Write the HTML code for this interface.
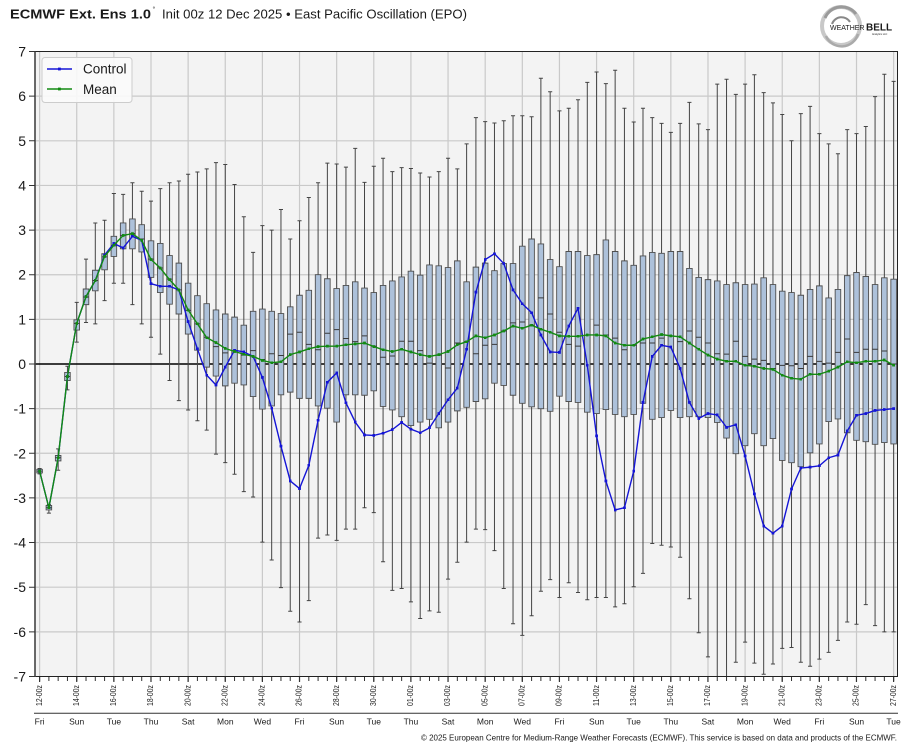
<!DOCTYPE html>
<html>
<head>
<meta charset="utf-8">
<style>
html,body{margin:0;padding:0;background:#fff;}
svg{display:block;}
text{font-family:"Liberation Sans","DejaVu Sans",sans-serif;fill:#1a1a1a;}
</style>
</head>
<body>
<svg width="914" height="750" viewBox="0 0 914 750" xmlns="http://www.w3.org/2000/svg">
<defs>
<marker id="mb" markerUnits="userSpaceOnUse" markerWidth="0.3" markerHeight="0.063" viewBox="0 0 1 1" refX="0.5" refY="0.5" preserveAspectRatio="none"><rect width="1" height="1" fill="#1414d6"/></marker>
<marker id="mg" markerUnits="userSpaceOnUse" markerWidth="0.3" markerHeight="0.063" viewBox="0 0 1 1" refX="0.5" refY="0.5" preserveAspectRatio="none"><rect width="1" height="1" fill="#128a12"/></marker>
</defs>
<rect x="0" y="0" width="914" height="750" fill="#fff"/>

<!-- title -->
<text x="10" y="18.5" font-size="13" font-weight="bold" textLength="141" lengthAdjust="spacingAndGlyphs">ECMWF Ext. Ens 1.0</text>
<text x="152.5" y="11.5" font-size="7">°</text>
<text x="162" y="18.5" font-size="13" textLength="305" lengthAdjust="spacingAndGlyphs">Init 00z 12 Dec 2025 • East Pacific Oscillation (EPO)</text>

<!-- logo -->
<g>
<circle cx="841" cy="26" r="19" fill="none" stroke="#c8c8c8" stroke-width="4"/>
<path d="M825 18 A18 18 0 0 1 856 14" fill="none" stroke="#9a9a9a" stroke-width="3"/>
<path d="M826 36 A17 17 0 0 0 858 34" fill="none" stroke="#aaa" stroke-width="2.5"/>
<path d="M832 24 A10 10 0 0 1 850 22" fill="none" stroke="#888" stroke-width="2"/>
<text x="830" y="30" font-family="Liberation Serif,serif" font-size="7" fill="#666">WEATHER</text>
<text x="866" y="30.5" font-family="Liberation Serif,serif" font-size="10" font-weight="bold" fill="#666">BELL</text>
<text x="872" y="35" font-size="2.5" fill="#888">Analytics LLC</text>
</g>

<!-- plot bg -->
<rect x="35" y="51.5" width="862.5" height="625" fill="#f3f3f3"/>

<g transform="translate(39.6 364) scale(9.283 -44.64)">
<!-- grid -->
<path vector-effect="non-scaling-stroke" stroke="#c9c9c9" stroke-width="1.2" fill="none"
d="M0 -7V7M4 -7V7M8 -7V7M12 -7V7M16 -7V7M20 -7V7M24 -7V7M28 -7V7M32 -7V7M36 -7V7M40 -7V7M44 -7V7M48 -7V7M52 -7V7M56 -7V7M60 -7V7M64 -7V7M68 -7V7M72 -7V7M76 -7V7M80 -7V7M84 -7V7M88 -7V7M92 -7V7
M-.5 6H92.42M-.5 5H92.42M-.5 4H92.42M-.5 3H92.42M-.5 2H92.42M-.5 1H92.42M-.5 -1H92.42M-.5 -2H92.42M-.5 -3H92.42M-.5 -4H92.42M-.5 -5H92.42M-.5 -6H92.42"/>
<path vector-effect="non-scaling-stroke" stroke="#000" stroke-width="1.4" fill="none" d="M-.5 0H92.42"/>

<!-- whiskers -->
<path vector-effect="non-scaling-stroke" stroke="#444" stroke-width="1" fill="none"
d="M0 -2.34V-2.46M1 -3.15V-3.34M2 -1.9V-2.38M3 -.05V-.58M4 1.38V.49M5 2.35V.93M6 3.16V.9M7 3.22V1.42M8 3.82V1.81M9 3.8V1.81M10 4.06V1.33M11 3.87V.9M12 3.65V.6M13 3.93V.22M14 4.06V-.37M15 4.1V-.82M16 4.25V-1.03M17 4.3V-1.27M18 4.37V-1.48M19 4.51V-2.02M20 4.47V-2.21M21 4.02V-2.47M22 3.3V-2.86M23 2.5V-2.98M24 3.1V-3.99M25 3V-4.39M26 3.46V-5.01M27 2.8V-5.54M28 3.21V-5.78M29 3.73V-5.3M30 4.06V-3.9M31 4.5V-3.83M32 4.48V-3.95M33 4.41V-3.7M34 4.83V-3.7M35 4.07V-3.22M36 4.43V-3.33M37 4.61V-4.43M38 4.31V-5.07M39 4.4V-5.03M40 4.38V-5.33M41 4.28V-5.7M42 4.19V-5.53M43 4.31V-5.56M44 4.61V-4.82M45 4.37V-4.44M46 4.93V-3.99M47 5.52V-3.7M48 5.43V-3.71M49 5.4V-4.18M50 5.45V-5.03M51 5.56V-5.82M52 5.56V-6.08M53 5.54V-5.64M54 6.4V-5.09M55 6.1V-4.83M56 5.67V-5.23M57 5.73V-4.9M58 5.92V-5.12M59 6.31V-5.28M60 6.54V-5.23M61 6.28V-5.23M62 6.58V-5.44M63 5.73V-5.37M64 5.42V-4.99M65 5.73V-4.69M66 5.52V-4.02M67 5.39V-4.06M68 5.19V-4.1M69 5.39V-4.33M70 5.86V-5.26M71 5.38V-6.02M72 5.25V-6.56M73 6.27V-7M74 6.38V-7M75 6.04V-6.68M76 6.27V-6.23M77 6.48V-6.7M78 6.08V-6.95M79 5.85V-6.72M80 5.59V-6.37M81 5V-6.35M82 5.61V-6.68M83 5.77V-6.77M84 5.16V-6.61M85 4.93V-6.46M86 4.71V-6.19M87 5.25V-5.78M88 5.16V-5.83M89 5.32V-5.39M90 5.99V-5.86M91 6.49V-6M92 6.33V-6"/>
<!-- caps -->
<path vector-effect="non-scaling-stroke" stroke="#444" stroke-width="1" fill="none"
d="M-.22 -2.34h.44M-.22 -2.46h.44M.78 -3.15h.44M.78 -3.34h.44M1.78 -1.9h.44M1.78 -2.38h.44M2.78 -.05h.44M2.78 -.58h.44M3.78 1.38h.44M3.78 .49h.44M4.78 2.35h.44M4.78 .93h.44M5.78 3.16h.44M5.78 .9h.44M6.78 3.22h.44M6.78 1.42h.44M7.78 3.82h.44M7.78 1.81h.44M8.78 3.8h.44M8.78 1.81h.44M9.78 4.06h.44M9.78 1.33h.44M10.78 3.87h.44M10.78 .9h.44M11.78 3.65h.44M11.78 .6h.44M12.78 3.93h.44M12.78 .22h.44M13.78 4.06h.44M13.78 -.37h.44M14.78 4.1h.44M14.78 -.82h.44M15.78 4.25h.44M15.78 -1.03h.44M16.78 4.3h.44M16.78 -1.27h.44M17.78 4.37h.44M17.78 -1.48h.44M18.78 4.51h.44M18.78 -2.02h.44M19.78 4.47h.44M19.78 -2.21h.44M20.78 4.02h.44M20.78 -2.47h.44M21.78 3.3h.44M21.78 -2.86h.44M22.78 2.5h.44M22.78 -2.98h.44M23.78 3.1h.44M23.78 -3.99h.44M24.78 3h.44M24.78 -4.39h.44M25.78 3.46h.44M25.78 -5.01h.44M26.78 2.8h.44M26.78 -5.54h.44M27.78 3.21h.44M27.78 -5.78h.44M28.78 3.73h.44M28.78 -5.3h.44M29.78 4.06h.44M29.78 -3.9h.44M30.78 4.5h.44M30.78 -3.83h.44M31.78 4.48h.44M31.78 -3.95h.44M32.78 4.41h.44M32.78 -3.7h.44M33.78 4.83h.44M33.78 -3.7h.44M34.78 4.07h.44M34.78 -3.22h.44M35.78 4.43h.44M35.78 -3.33h.44M36.78 4.61h.44M36.78 -4.43h.44M37.78 4.31h.44M37.78 -5.07h.44M38.78 4.4h.44M38.78 -5.03h.44M39.78 4.38h.44M39.78 -5.33h.44M40.78 4.28h.44M40.78 -5.7h.44M41.78 4.19h.44M41.78 -5.53h.44M42.78 4.31h.44M42.78 -5.56h.44M43.78 4.61h.44M43.78 -4.82h.44M44.78 4.37h.44M44.78 -4.44h.44M45.78 4.93h.44M45.78 -3.99h.44M46.78 5.52h.44M46.78 -3.7h.44M47.78 5.43h.44M47.78 -3.71h.44M48.78 5.4h.44M48.78 -4.18h.44M49.78 5.45h.44M49.78 -5.03h.44M50.78 5.56h.44M50.78 -5.82h.44M51.78 5.56h.44M51.78 -6.08h.44M52.78 5.54h.44M52.78 -5.64h.44M53.78 6.4h.44M53.78 -5.09h.44M54.78 6.1h.44M54.78 -4.83h.44M55.78 5.67h.44M55.78 -5.23h.44M56.78 5.73h.44M56.78 -4.9h.44M57.78 5.92h.44M57.78 -5.12h.44M58.78 6.31h.44M58.78 -5.28h.44M59.78 6.54h.44M59.78 -5.23h.44M60.78 6.28h.44M60.78 -5.23h.44M61.78 6.58h.44M61.78 -5.44h.44M62.78 5.73h.44M62.78 -5.37h.44M63.78 5.42h.44M63.78 -4.99h.44M64.78 5.73h.44M64.78 -4.69h.44M65.78 5.52h.44M65.78 -4.02h.44M66.78 5.39h.44M66.78 -4.06h.44M67.78 5.19h.44M67.78 -4.1h.44M68.78 5.39h.44M68.78 -4.33h.44M69.78 5.86h.44M69.78 -5.26h.44M70.78 5.38h.44M70.78 -6.02h.44M71.78 5.25h.44M71.78 -6.56h.44M72.78 6.27h.44M73.78 6.38h.44M74.78 6.04h.44M74.78 -6.68h.44M75.78 6.27h.44M75.78 -6.23h.44M76.78 6.48h.44M76.78 -6.7h.44M77.78 6.08h.44M77.78 -6.95h.44M78.78 5.85h.44M78.78 -6.72h.44M79.78 5.59h.44M79.78 -6.37h.44M80.78 5h.44M80.78 -6.35h.44M81.78 5.61h.44M81.78 -6.68h.44M82.78 5.77h.44M82.78 -6.77h.44M83.78 5.16h.44M83.78 -6.61h.44M84.78 4.93h.44M84.78 -6.46h.44M85.78 4.71h.44M85.78 -6.19h.44M86.78 5.25h.44M86.78 -5.78h.44M87.78 5.16h.44M87.78 -5.83h.44M88.78 5.32h.44M88.78 -5.39h.44M89.78 5.99h.44M89.78 -5.86h.44M90.78 6.49h.44M90.78 -6h.44M91.78 6.33h.44M91.78 -6h.44"/>

<!-- boxes -->
<path vector-effect="non-scaling-stroke" stroke="#4f4f4f" stroke-width="0.9" fill="#adc1da"
d="M-.3 -2.44h.6V-2.36h-.6ZM.7 -3.27h.6V-3.17h-.6ZM1.7 -2.17h.6V-2.05h-.6ZM2.7 -.37h.6V-.19h-.6ZM3.7 .76h.6V.99h-.6ZM4.7 1.33h.6V1.68h-.6ZM5.7 1.64h.6V2.1h-.6ZM6.7 2.11h.6V2.47h-.6ZM7.7 2.41h.6V2.86h-.6ZM8.7 2.58h.6V3.16h-.6ZM9.7 2.58h.6V3.25h-.6ZM10.7 2.51h.6V3.12h-.6ZM11.7 1.94h.6V2.76h-.6ZM12.7 1.6h.6V2.7h-.6ZM13.7 1.34h.6V2.43h-.6ZM14.7 1.12h.6V2.26h-.6ZM15.7 .67h.6V1.81h-.6ZM16.7 .31h.6V1.53h-.6ZM17.7 -.07h.6V1.35h-.6ZM18.7 -.27h.6V1.21h-.6ZM19.7 -.49h.6V1.12h-.6ZM20.7 -.43h.6V1.05h-.6ZM21.7 -.47h.6V.87h-.6ZM22.7 -.73h.6V1.18h-.6ZM23.7 -1.01h.6V1.23h-.6ZM24.7 -.94h.6V1.18h-.6ZM25.7 -.69h.6V1.13h-.6ZM26.7 -.63h.6V1.28h-.6ZM27.7 -.77h.6V1.54h-.6ZM28.7 -.77h.6V1.65h-.6ZM29.7 -.94h.6V2h-.6ZM30.7 -.99h.6V1.91h-.6ZM31.7 -1.3h.6V1.69h-.6ZM32.7 -.69h.6V1.76h-.6ZM33.7 -.69h.6V1.84h-.6ZM34.7 -.7h.6V1.7h-.6ZM35.7 -.6h.6V1.6h-.6ZM36.7 -.95h.6V1.76h-.6ZM37.7 -1.03h.6V1.86h-.6ZM38.7 -1.18h.6V1.95h-.6ZM39.7 -1.38h.6V2.08h-.6ZM40.7 -1.3h.6V1.99h-.6ZM41.7 -1.24h.6V2.22h-.6ZM42.7 -1.43h.6V2.2h-.6ZM43.7 -1.3h.6V2.16h-.6ZM44.7 -1.05h.6V2.31h-.6ZM45.7 -.97h.6V1.84h-.6ZM46.7 -.84h.6V2.17h-.6ZM47.7 -.78h.6V2.26h-.6ZM48.7 -.43h.6V2.09h-.6ZM49.7 -.48h.6V2.25h-.6ZM50.7 -.7h.6V2.25h-.6ZM51.7 -.88h.6V2.64h-.6ZM52.7 -.96h.6V2.8h-.6ZM53.7 -1h.6V2.69h-.6ZM54.7 -1.06h.6V2.34h-.6ZM55.7 -.72h.6V2.18h-.6ZM56.7 -.84h.6V2.52h-.6ZM57.7 -.86h.6V2.52h-.6ZM58.7 -1.08h.6V2.43h-.6ZM59.7 -1.11h.6V2.45h-.6ZM60.7 -1.02h.6V2.78h-.6ZM61.7 -1.13h.6V2.52h-.6ZM62.7 -1.18h.6V2.31h-.6ZM63.7 -1.13h.6V2.21h-.6ZM64.7 -.88h.6V2.42h-.6ZM65.7 -1.24h.6V2.5h-.6ZM66.7 -1.2h.6V2.48h-.6ZM67.7 -1.04h.6V2.52h-.6ZM68.7 -1.2h.6V2.52h-.6ZM69.7 -1.18h.6V2.14h-.6ZM70.7 -1.18h.6V1.94h-.6ZM71.7 -1.2h.6V1.89h-.6ZM72.7 -1.31h.6V1.86h-.6ZM73.7 -1.66h.6V1.78h-.6ZM74.7 -2.01h.6V1.82h-.6ZM75.7 -1.83h.6V1.78h-.6ZM76.7 -1.56h.6V1.79h-.6ZM77.7 -1.83h.6V1.93h-.6ZM78.7 -1.67h.6V1.78h-.6ZM79.7 -2.16h.6V1.63h-.6ZM80.7 -2.21h.6V1.6h-.6ZM81.7 -2.3h.6V1.54h-.6ZM82.7 -1.99h.6V1.67h-.6ZM83.7 -1.79h.6V1.75h-.6ZM84.7 -1.29h.6V1.48h-.6ZM85.7 -1.23h.6V1.67h-.6ZM86.7 -1.54h.6V1.98h-.6ZM87.7 -1.71h.6V2.05h-.6ZM88.7 -1.74h.6V1.96h-.6ZM89.7 -1.8h.6V1.78h-.6ZM90.7 -1.76h.6V1.93h-.6ZM91.7 -1.79h.6V1.9h-.6Z"/>
<!-- medians -->
<path vector-effect="non-scaling-stroke" stroke="#3a3a3a" stroke-width="1" fill="none"
d="M-.3 -2.4h.6M.7 -3.22h.6M1.7 -2.1h.6M2.7 -.28h.6M3.7 .91h.6M4.7 1.5h.6M5.7 1.87h.6M6.7 2.4h.6M7.7 2.65h.6M8.7 2.88h.6M9.7 2.92h.6M10.7 2.8h.6M11.7 2.35h.6M12.7 2.15h.6M13.7 1.9h.6M14.7 1.66h.6M15.7 1.2h.6M16.7 .9h.6M17.7 .6h.6M18.7 .39h.6M19.7 .25h.6M20.7 .3h.6M21.7 .2h.6M22.7 .3h.6M23.7 .1h.6M24.7 .23h.6M25.7 .19h.6M26.7 .67h.6M27.7 .71h.6M28.7 .44h.6M29.7 .32h.6M30.7 .69h.6M31.7 .77h.6M32.7 .57h.6M33.7 .5h.6M34.7 .63h.6M35.7 .4h.6M36.7 .15h.6M37.7 .18h.6M38.7 .51h.6M39.7 .51h.6M40.7 .3h.6M41.7 .02h.6M42.7 .2h.6M43.7 -.09h.6M44.7 .47h.6M45.7 .5h.6M46.7 .23h.6M47.7 .42h.6M48.7 .44h.6M49.7 .74h.6M50.7 .92h.6M51.7 .94h.6M52.7 .87h.6M53.7 1.48h.6M54.7 1.12h.6M55.7 .71h.6M56.7 .44h.6M57.7 .4h.6M58.7 .65h.6M59.7 .87h.6M60.7 .65h.6M61.7 .58h.6M62.7 .32h.6M63.7 .42h.6M64.7 .47h.6M65.7 .47h.6M66.7 .58h.6M67.7 .63h.6M68.7 .5h.6M69.7 .74h.6M70.7 .6h.6M71.7 .47h.6M72.7 .23h.6M73.7 .22h.6M74.7 .51h.6M75.7 .17h.6M76.7 .11h.6M77.7 .08h.6M78.7 -.1h.6M79.7 -.03h.6M80.7 -.04h.6M81.7 -.1h.6M82.7 .17h.6M83.7 .06h.6M84.7 .02h.6M85.7 .26h.6M86.7 .56h.6M87.7 .26h.6M88.7 .33h.6M89.7 .33h.6M90.7 .29h.6M91.7 0h.6"/>

<!-- control -->
<polyline vector-effect="non-scaling-stroke" fill="none" stroke="#1414d6" stroke-width="1.4" stroke-linejoin="round"
marker-start="url(#mb)" marker-mid="url(#mb)" marker-end="url(#mb)"
points="0,-2.4 1,-3.22 2,-2.1 3,-.28 4,.91 5,1.51 6,1.87 7,2.44 8,2.7 9,2.6 10,2.86 11,2.77 12,1.8 13,1.74 14,1.74 15,1.66 16,.95 17,.34 18,-.25 19,-.47 20,-.07 21,.31 22,.27 23,.17 24,-.3 25,-.99 26,-1.84 27,-2.62 28,-2.79 29,-2.27 30,-1.26 31,-.41 32,-.2 33,-.87 34,-1.3 35,-1.59 36,-1.6 37,-1.55 38,-1.47 39,-1.31 40,-1.46 41,-1.54 42,-1.43 43,-1.11 44,-.8 45,-.54 46,.33 47,1.61 48,2.34 49,2.47 50,2.25 51,1.66 52,1.35 53,1.15 54,.65 55,.27 56,.26 57,.85 58,1.25 59,-.03 60,-1.61 61,-2.62 62,-3.27 63,-3.22 64,-2.4 65,-.86 66,.17 67,.42 68,.38 69,-.1 70,-.86 71,-1.22 72,-1.11 73,-1.14 74,-1.42 75,-1.36 76,-2.06 77,-2.91 78,-3.63 79,-3.79 80,-3.63 81,-2.8 82,-2.33 83,-2.31 84,-2.28 85,-2.1 86,-2.04 87,-1.5 88,-1.15 89,-1.11 90,-1.04 91,-1.02 92,-1"/>
<!-- mean -->
<polyline vector-effect="non-scaling-stroke" fill="none" stroke="#128a12" stroke-width="1.4" stroke-linejoin="round"
marker-start="url(#mg)" marker-mid="url(#mg)" marker-end="url(#mg)"
points="0,-2.4 1,-3.22 2,-2.1 3,-.28 4,.91 5,1.51 6,1.87 7,2.41 8,2.66 9,2.88 10,2.92 11,2.77 12,2.34 13,2.15 14,1.89 15,1.66 16,1.21 17,.9 18,.59 19,.48 20,.35 21,.28 22,.22 23,.17 24,.08 25,.03 26,.05 27,.21 28,.27 29,.34 30,.39 31,.4 32,.4 33,.43 34,.45 35,.47 36,.39 37,.32 38,.28 39,.33 40,.27 41,.21 42,.17 43,.21 44,.28 45,.43 46,.5 47,.63 48,.59 49,.65 50,.74 51,.85 52,.8 53,.87 54,.78 55,.71 56,.63 57,.62 58,.62 59,.65 60,.65 61,.63 62,.47 63,.42 64,.42 65,.56 66,.61 67,.66 68,.63 69,.61 70,.47 71,.33 72,.2 73,.11 74,.06 75,.06 76,-.03 77,-.05 78,-.1 79,-.12 80,-.25 81,-.32 82,-.34 83,-.23 84,-.23 85,-.16 86,-.07 87,.05 88,.03 89,.06 90,.06 91,.09 92,-.03"/>
</g>

<!-- frame -->
<rect x="35" y="51.5" width="862.5" height="625" fill="none" stroke="#222" stroke-width="1"/>
<line x1="35" y1="51.5" x2="35" y2="677" stroke="#444" stroke-width="1.6"/>

<!-- y ticks -->
<path stroke="#333" stroke-width="1" fill="none" d="M29 51.52h6M29 96.16h6M29 140.8h6M29 185.44h6M29 230.08h6M29 274.72h6M29 319.36h6M29 364h6M29 408.64h6M29 453.28h6M29 497.92h6M29 542.56h6M29 587.2h6M29 631.84h6M29 676.48h6"/>
<g font-size="14" text-anchor="end">
<text x="26" y="56.5">7</text>
<text x="26" y="101.2">6</text>
<text x="26" y="145.8">5</text>
<text x="26" y="190.4">4</text>
<text x="26" y="235.1">3</text>
<text x="26" y="279.7">2</text>
<text x="26" y="324.4">1</text>
<text x="26" y="369">0</text>
<text x="26" y="413.6">-1</text>
<text x="26" y="458.3">-2</text>
<text x="26" y="502.9">-3</text>
<text x="26" y="547.6">-4</text>
<text x="26" y="592.2">-5</text>
<text x="26" y="636.8">-6</text>
<text x="26" y="681.5">-7</text>
</g>

<!-- x ticks -->
<line x1="39.1" y1="679" x2="895" y2="679" stroke="#333" stroke-width="4" stroke-dasharray="1 8.283"/>
<line x1="39" y1="679.5" x2="895" y2="679.5" stroke="#333" stroke-width="5" stroke-dasharray="1.2 35.93"/>

<!-- x labels rotated -->
<g font-size="8">
<text transform="translate(41.8 706) rotate(-90)" textLength="21" lengthAdjust="spacingAndGlyphs">12-00z</text>
<text transform="translate(78.9 706) rotate(-90)" textLength="21" lengthAdjust="spacingAndGlyphs">14-00z</text>
<text transform="translate(116.1 706) rotate(-90)" textLength="21" lengthAdjust="spacingAndGlyphs">16-00z</text>
<text transform="translate(153.2 706) rotate(-90)" textLength="21" lengthAdjust="spacingAndGlyphs">18-00z</text>
<text transform="translate(190.3 706) rotate(-90)" textLength="21" lengthAdjust="spacingAndGlyphs">20-00z</text>
<text transform="translate(227.5 706) rotate(-90)" textLength="21" lengthAdjust="spacingAndGlyphs">22-00z</text>
<text transform="translate(264.6 706) rotate(-90)" textLength="21" lengthAdjust="spacingAndGlyphs">24-00z</text>
<text transform="translate(301.7 706) rotate(-90)" textLength="21" lengthAdjust="spacingAndGlyphs">26-00z</text>
<text transform="translate(338.8 706) rotate(-90)" textLength="21" lengthAdjust="spacingAndGlyphs">28-00z</text>
<text transform="translate(376 706) rotate(-90)" textLength="21" lengthAdjust="spacingAndGlyphs">30-00z</text>
<text transform="translate(413.1 706) rotate(-90)" textLength="21" lengthAdjust="spacingAndGlyphs">01-00z</text>
<text transform="translate(450.2 706) rotate(-90)" textLength="21" lengthAdjust="spacingAndGlyphs">03-00z</text>
<text transform="translate(487.4 706) rotate(-90)" textLength="21" lengthAdjust="spacingAndGlyphs">05-00z</text>
<text transform="translate(524.5 706) rotate(-90)" textLength="21" lengthAdjust="spacingAndGlyphs">07-00z</text>
<text transform="translate(561.6 706) rotate(-90)" textLength="21" lengthAdjust="spacingAndGlyphs">09-00z</text>
<text transform="translate(598.8 706) rotate(-90)" textLength="21" lengthAdjust="spacingAndGlyphs">11-00z</text>
<text transform="translate(635.9 706) rotate(-90)" textLength="21" lengthAdjust="spacingAndGlyphs">13-00z</text>
<text transform="translate(673 706) rotate(-90)" textLength="21" lengthAdjust="spacingAndGlyphs">15-00z</text>
<text transform="translate(710.1 706) rotate(-90)" textLength="21" lengthAdjust="spacingAndGlyphs">17-00z</text>
<text transform="translate(747.3 706) rotate(-90)" textLength="21" lengthAdjust="spacingAndGlyphs">19-00z</text>
<text transform="translate(784.4 706) rotate(-90)" textLength="21" lengthAdjust="spacingAndGlyphs">21-00z</text>
<text transform="translate(821.5 706) rotate(-90)" textLength="21" lengthAdjust="spacingAndGlyphs">23-00z</text>
<text transform="translate(858.7 706) rotate(-90)" textLength="21" lengthAdjust="spacingAndGlyphs">25-00z</text>
<text transform="translate(895.8 706) rotate(-90)" textLength="21" lengthAdjust="spacingAndGlyphs">27-00z</text>
</g>

<line x1="34" y1="713.3" x2="898" y2="713.3" stroke="#333" stroke-width="1"/>

<!-- day labels -->
<g font-size="8.5" text-anchor="middle">
<text x="39.6" y="724.5">Fri</text>
<text x="76.7" y="724.5">Sun</text>
<text x="113.9" y="724.5">Tue</text>
<text x="151" y="724.5">Thu</text>
<text x="188.1" y="724.5">Sat</text>
<text x="225.3" y="724.5">Mon</text>
<text x="262.4" y="724.5">Wed</text>
<text x="299.5" y="724.5">Fri</text>
<text x="336.6" y="724.5">Sun</text>
<text x="373.8" y="724.5">Tue</text>
<text x="410.9" y="724.5">Thu</text>
<text x="448" y="724.5">Sat</text>
<text x="485.2" y="724.5">Mon</text>
<text x="522.3" y="724.5">Wed</text>
<text x="559.4" y="724.5">Fri</text>
<text x="596.6" y="724.5">Sun</text>
<text x="633.7" y="724.5">Tue</text>
<text x="670.8" y="724.5">Thu</text>
<text x="707.9" y="724.5">Sat</text>
<text x="745.1" y="724.5">Mon</text>
<text x="782.2" y="724.5">Wed</text>
<text x="819.3" y="724.5">Fri</text>
<text x="856.5" y="724.5">Sun</text>
<text x="893.6" y="724.5">Tue</text>
</g>

<text x="421" y="740.5" font-size="8.5" textLength="476" lengthAdjust="spacingAndGlyphs">© 2025 European Centre for Medium-Range Weather Forecasts (ECMWF). This service is based on data and products of the ECMWF.</text>

<!-- legend -->
<rect x="42" y="57.5" width="90" height="45" rx="3" fill="#fbfbfb" fill-opacity="0.9" stroke="#cccccc" stroke-width="1"/>
<line x1="47" y1="69" x2="72" y2="69" stroke="#1414d6" stroke-width="1.4"/>
<rect x="58" y="67.6" width="2.8" height="2.8" fill="#1414d6"/>
<text x="83" y="73.5" font-size="13.5">Control</text>
<line x1="47" y1="89" x2="72" y2="89" stroke="#128a12" stroke-width="1.4"/>
<rect x="58" y="87.6" width="2.8" height="2.8" fill="#128a12"/>
<text x="83" y="94" font-size="13.5">Mean</text>
</svg>
</body>
</html>
